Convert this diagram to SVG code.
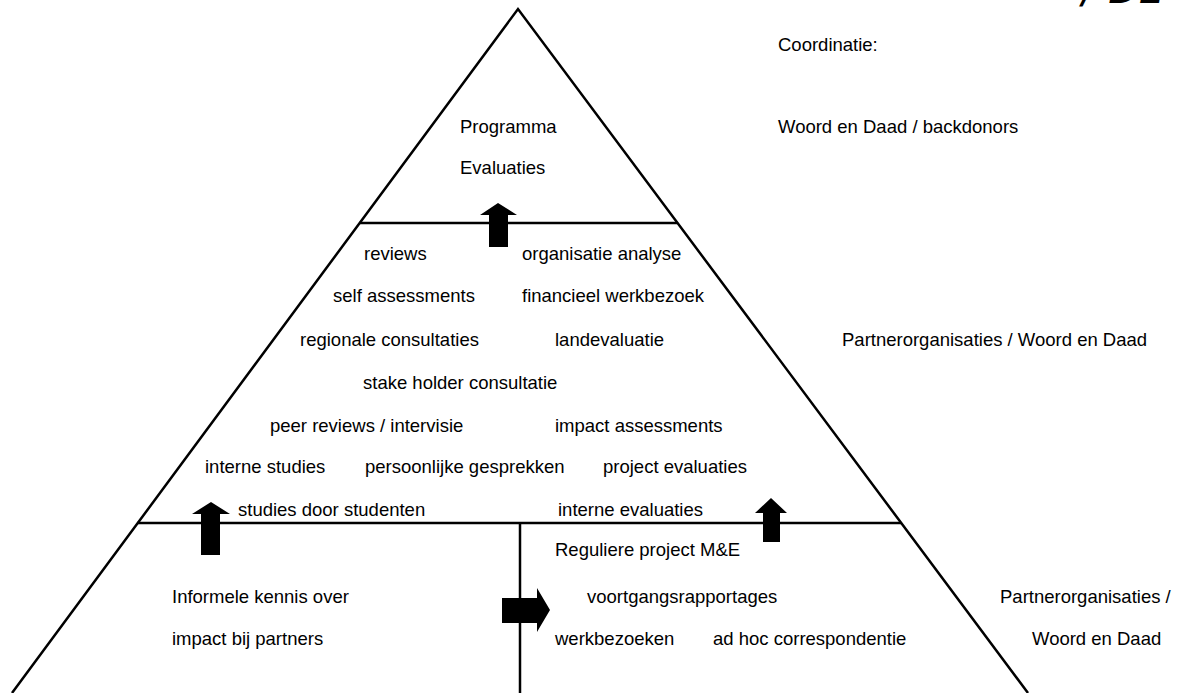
<svg xmlns="http://www.w3.org/2000/svg" width="1180" height="693" viewBox="0 0 1180 693">
<style>
text{font-family:"Liberation Sans",Arial,sans-serif;font-size:18.5px;fill:#000}
.ln{stroke:#000;stroke-width:2.5;fill:none}
.arr{fill:#000;stroke:none}
.hand{font-family:"DejaVu Sans",sans-serif;font-size:40px;font-style:italic;font-weight:300}
</style>
<rect width="1180" height="693" fill="#fff"/>
<g id="connectors">
<polyline class="ln" points="12,693 518,9 1028,693"/>
<line class="ln" x1="359.6" y1="223" x2="677" y2="223"/>
<line class="ln" x1="137.6" y1="523" x2="901" y2="523"/>
<line class="ln" x1="520" y1="523" x2="520" y2="693"/>
<polygon class="arr" points="498,203 517,215 508,215 508,247 489,247 489,215 480,215"/>
<polygon class="arr" points="211,502 230,514 220,514 220,555 201,555 201,514 192,514"/>
<polygon class="arr" points="771,498 787,513 780,513 780,542 763,542 763,513 755,513"/>
<polygon class="arr" points="550,610 537,588 537,598 502,598 502,623 537,623 537,632"/>
</g>
<g id="top-level">
<text x="460" y="133">Programma</text>
<text x="460" y="174">Evaluaties</text>
</g>
<g id="middle-level">
<text x="364" y="260">reviews</text>
<text x="522" y="260">organisatie analyse</text>
<text x="333" y="302">self assessments</text>
<text x="522" y="302">financieel werkbezoek</text>
<text x="300" y="346">regionale consultaties</text>
<text x="555" y="346">landevaluatie</text>
<text x="363" y="389">stake holder consultatie</text>
<text x="270" y="432">peer reviews / intervisie</text>
<text x="555" y="432">impact assessments</text>
<text x="205" y="473">interne studies</text>
<text x="365" y="473">persoonlijke gesprekken</text>
<text x="603" y="473">project evaluaties</text>
<text x="238" y="516">studies door studenten</text>
<text x="558" y="516">interne evaluaties</text>
</g>
<g id="bottom-left">
<text x="172" y="603">Informele kennis over</text>
<text x="172" y="645">impact bij partners</text>
</g>
<g id="bottom-right">
<text x="555" y="556">Reguliere project M&amp;E</text>
<text x="587" y="603">voortgangsrapportages</text>
<text x="555" y="645">werkbezoeken</text>
<text x="713" y="645">ad hoc correspondentie</text>
</g>
<g id="coordination">
<text x="778" y="51">Coordinatie:</text>
<text x="778" y="133">Woord en Daad / backdonors</text>
<text x="842" y="346">Partnerorganisaties / Woord en Daad</text>
<text x="1000" y="603">Partnerorganisaties /</text>
<text x="1032" y="645">Woord en Daad</text>
</g>
<g id="handwriting">
<text class="hand" x="1082" y="3">/ DE</text>
</g>
</svg>
